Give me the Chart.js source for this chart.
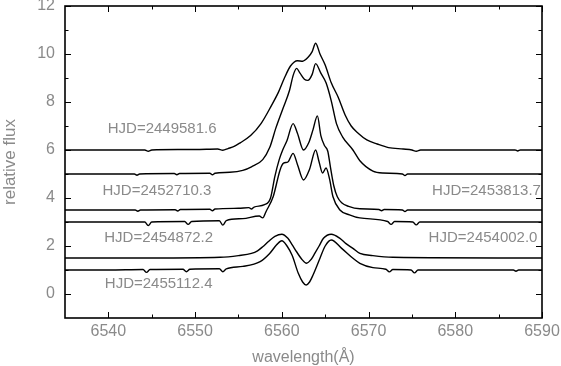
<!DOCTYPE html>
<html><head><meta charset="utf-8">
<script src="https://cdn.jsdelivr.net/npm/chart.js@4.4.1/dist/chart.umd.min.js"></script>
<style>html,body{margin:0;padding:0;background:#fff;}</style>
</head><body>
<canvas id="c" width="561" height="366"></canvas>
<script>
// ---- data (wavelength in Å, relative flux) ----
const wl1 = [6535,6540,6544.2,6544.6,6545.0,6548,6550,6552.6,6553.2,6553.8,6554.5,6555.2,6556.4,6557.6,6558.8,6559.6,6560.3,6561.0,6561.8,6562.4,6563.0,6563.5,6563.9,6564.4,6565.0,6565.7,6566.5,6567.3,6568.0,6568.8,6569.8,6571.0,6572.3,6574.0,6575.0,6575.5,6576.0,6580,6586.9,6587.2,6587.5,6590];
const fx1 = [6.0,6.0,6.0,5.95,6.0,6.02,6.02,6.04,5.99,6.06,6.15,6.3,6.6,7.1,7.85,8.4,9.0,9.5,9.72,9.7,9.85,10.1,10.45,10.0,9.54,8.8,8.2,7.46,7.0,6.7,6.42,6.25,6.1,6.04,6.0,5.95,6.0,6.0,6.0,5.96,6.0,6.0];

const wl2 = [6535,6540,6543.0,6543.3,6543.6,6547.6,6547.9,6548.2,6551.7,6552.0,6552.3,6554.0,6555.5,6556.5,6557.8,6558.6,6559.3,6560.1,6560.9,6561.3,6561.7,6562.1,6562.6,6563.0,6563.5,6563.9,6564.5,6565.1,6565.7,6566.3,6567.0,6568.2,6569.0,6570.5,6571.6,6573.9,6574.2,6574.5,6590];
const fx2 = [5.0,5.0,5.0,4.95,5.0,5.02,4.97,5.02,5.03,4.97,5.03,5.07,5.15,5.3,5.6,6.1,6.9,7.7,8.5,9.1,9.4,9.2,8.95,8.9,9.15,9.6,9.2,8.8,8.05,7.1,6.55,6.0,5.55,5.12,5.04,5.0,4.94,5.0,5.0];

const wl3 = [6535,6540,6543.1,6543.4,6543.7,6547.7,6548.0,6548.3,6551.7,6552.0,6552.3,6555,6556.2,6556.5,6556.8,6558.0,6558.7,6559.2,6559.7,6560.1,6560.6,6561.3,6561.8,6562.5,6563.1,6563.6,6564.1,6564.5,6564.9,6565.3,6565.6,6566.0,6566.4,6566.9,6567.7,6569.0,6571.2,6571.5,6571.8,6573.9,6574.2,6574.5,6590];
const fx3 = [3.5,3.5,3.5,3.45,3.5,3.51,3.46,3.52,3.53,3.47,3.54,3.57,3.6,3.54,3.62,3.72,4.0,4.9,5.6,6.0,6.4,7.1,6.7,6.0,6.3,6.85,7.42,6.6,6.2,5.95,5.3,4.5,4.05,3.8,3.65,3.55,3.52,3.47,3.52,3.5,3.44,3.5,3.5];

const wl4 = [6535,6540,6544.2,6544.6,6545.0,6548.8,6549.2,6549.6,6552.8,6553.2,6553.6,6555.5,6557.4,6557.8,6558.2,6559.0,6559.8,6560.2,6560.7,6561.3,6561.8,6562.5,6563.2,6563.9,6564.3,6564.7,6565.1,6565.5,6565.9,6566.7,6567.8,6569.0,6572.2,6572.6,6573.0,6575.1,6575.5,6575.9,6590];
const fx4 = [3.0,3.0,3.0,2.85,3.0,3.02,2.9,3.02,3.05,2.87,3.06,3.14,3.25,3.17,3.45,4.05,5.17,5.45,5.5,5.86,5.4,4.75,5.2,6.0,5.5,5.04,5.25,4.8,4.05,3.5,3.3,3.17,3.02,2.9,3.02,3.0,2.88,3.0,3.0];

const wl5 = [6535,6545,6552.9,6555.0,6556.5,6557.2,6557.8,6558.5,6559.2,6560.0,6560.7,6561.2,6561.7,6562.3,6562.85,6563.4,6563.8,6564.3,6564.8,6565.7,6566.7,6567.4,6568.2,6569.0,6570.5,6572.8,6590];
const fx5 = [1.5,1.5,1.53,1.6,1.69,1.8,1.97,2.2,2.4,2.49,2.32,2.05,1.76,1.45,1.28,1.45,1.69,2.0,2.32,2.49,2.32,2.1,1.9,1.69,1.6,1.53,1.5];

const wl6 = [6535,6540,6544.0,6544.4,6544.8,6548.6,6549.0,6549.4,6552.8,6553.2,6553.6,6555.5,6557.5,6558.6,6559.4,6560.0,6560.6,6561.2,6561.9,6562.4,6562.8,6563.2,6563.6,6564.4,6565.0,6565.7,6566.9,6568.2,6569.0,6570.5,6572.0,6572.4,6572.8,6574.9,6575.3,6575.7,6586.7,6587.0,6587.3,6590];
const fx6 = [1.0,1.0,1.02,0.9,1.02,1.03,0.93,1.03,1.05,0.93,1.05,1.15,1.35,1.69,2.05,2.22,2.0,1.6,0.86,0.5,0.375,0.5,0.79,1.49,2.0,2.25,1.9,1.49,1.28,1.1,1.03,0.92,1.02,1.0,0.88,1.0,1.0,0.95,1.0,1.0];

const seriesLabels = ['HJD=2449581.6','HJD=2453813.7','HJD=2452710.3','HJD=2454872.2','HJD=2454002.0','HJD=2455112.4'];
const xTickValues = [6540,6550,6560,6570,6580,6590];
const xMinorValues = [6545,6555,6565,6575,6585];
const yTickValues = [0,2,4,6,8,10,12];
const yMinorValues = [1,3,5,7,9,11];

// label anchor positions (data coords)
const labelX = [6546.2,6583.6,6545.6,6545.8,6583.2,6545.8];
const labelY = [6.9,4.3,4.3,2.36,2.36,0.42];

const wls = [wl1,wl2,wl3,wl4,wl5,wl6];
const fxs = [fx1,fx2,fx3,fx4,fx5,fx6];
const datasets = wls.map((w,i)=>({
  label: seriesLabels[i],
  data: w.map((x,j)=>({x:x,y:fxs[i][j]})),
  borderColor:'#000', borderWidth:1.4, pointRadius:0, fill:false,
  cubicInterpolationMode:'monotone'
}));

const GRAY = '#8a8a8a';
const FONT = "'Liberation Sans', Arial, sans-serif";

const framePlugin = {
  id:'frame',
  afterDatasetsDraw(chart){
    const {ctx, chartArea:a, scales:{x,y}} = chart;
    ctx.save();
    ctx.strokeStyle='#000';
    ctx.lineWidth=1;
    const MAJ=6, MIN=3.5;
    ctx.beginPath();
    const vt=(v,len)=>{const p=Math.round(x.getPixelForValue(v))+0.5;
      ctx.moveTo(p,a.bottom); ctx.lineTo(p,a.bottom-len);
      ctx.moveTo(p,a.top); ctx.lineTo(p,a.top+len);};
    const ht=(v,len)=>{const p=Math.round(y.getPixelForValue(v))+0.5;
      ctx.moveTo(a.left,p); ctx.lineTo(a.left+len,p);
      ctx.moveTo(a.right,p); ctx.lineTo(a.right-len,p);};
    xTickValues.forEach(v=>vt(v,MAJ));
    xMinorValues.forEach(v=>vt(v,MIN));
    yTickValues.forEach(v=>ht(v,MAJ));
    yMinorValues.forEach(v=>ht(v,MIN));
    ctx.stroke();
    ctx.lineWidth=1.6;
    ctx.strokeRect(a.left,a.top,a.right-a.left,a.bottom-a.top);
    // series labels
    ctx.fillStyle=GRAY;
    ctx.font = "15px "+FONT;
    ctx.textAlign='center'; ctx.textBaseline='middle';
    seriesLabels.forEach((t,i)=>{
      ctx.fillText(t, x.getPixelForValue(labelX[i]), y.getPixelForValue(labelY[i]));
    });
    ctx.restore();
  }
};

new Chart(document.getElementById('c'), {
  type:'line',
  data:{datasets},
  options:{
    responsive:false, animation:false,
    layout:{padding:{top:6,right:19,left:0,bottom:0}},
    plugins:{legend:{display:false}, tooltip:{enabled:false}},
    scales:{
      x:{type:'linear', min:6535, max:6590,
        grid:{display:false, drawTicks:false}, border:{display:false},
        afterBuildTicks:(s)=>{s.ticks = xTickValues.map(v=>({value:v}));},
        afterFit:(s)=>{s.height=48; s.paddingLeft=0; s.paddingRight=0;},
        ticks:{color:GRAY, font:{family:FONT,size:16}, padding:4, maxRotation:0, autoSkip:false, callback:(v)=>String(v)},
        title:{display:true, text:'wavelength(Å)', color:GRAY, font:{family:FONT,size:16,lineHeight:1}, padding:{top:0,bottom:0}}
      },
      y:{type:'linear', min:-1, max:12,
        grid:{display:false, drawTicks:false}, border:{display:false},
        afterBuildTicks:(s)=>{s.ticks = yTickValues.map(v=>({value:v}));},
        afterFit:(s)=>{s.width=65; s.paddingTop=0; s.paddingBottom=0;},
        ticks:{color:GRAY, font:{family:FONT,size:16}, padding:10, autoSkip:false, callback:(v)=>String(v)},
        title:{display:true, text:'relative flux', color:GRAY, font:{family:FONT,size:17,lineHeight:1}, padding:{top:1.5,bottom:0}}
      }
    }
  },
  plugins:[framePlugin]
});
</script>
</body></html>
